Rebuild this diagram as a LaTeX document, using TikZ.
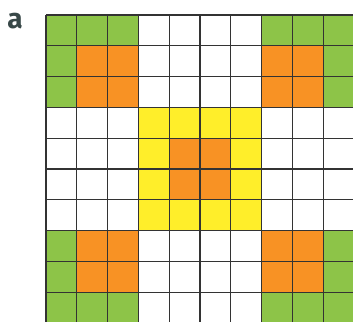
\documentclass[tikz,border=0pt]{standalone}
\usepackage{fontspec}
\setsansfont{Fira Sans}
\usepackage{tikz}
\definecolor{leafgreen}{RGB}{141,196,72}
\definecolor{cellorange}{RGB}{248,146,36}
\definecolor{cellyellow}{RGB}{255,238,42}
\definecolor{labelgray}{RGB}{56,72,72}

\begin{document}
\begin{tikzpicture}[x=1pt, y=-1pt,
    grn/.style={fill=leafgreen},
    org/.style={fill=cellorange},
    ylw/.style={fill=cellyellow},
    gridline/.style={draw=black!80, line width=1.3pt},
    lbl/.style={font=\sffamily\bfseries\fontsize{28}{28}\selectfont, text=labelgray, inner sep=0pt}
  ]
  \useasboundingbox (0,0) rectangle (353,321);
  \clip (0,0) rectangle (353,321);

  % ---------------- label ----------------
  \node[lbl] (tag) at (15,21) {a};

  % ---------------- 10x10 grid ----------------
  \begin{scope}[shift={(46,15)}, x=30.8pt, y=-30.8pt]
    % corner blocks
    \foreach \c/\r in {0/0,1/0,2/0,7/0,8/0,9/0,0/1,9/1,0/2,9/2,
                       0/7,9/7,0/8,9/8,0/9,1/9,2/9,7/9,8/9,9/9}
      \fill[grn] (\c,\r) rectangle ++(1,1);
    \foreach \c in {1,2,7,8}
      \foreach \r in {1,2,7,8}
        \fill[org] (\c,\r) rectangle ++(1,1);
    % centre block
    \fill[ylw] (3,3) rectangle (7,7);
    \fill[org] (4,4) rectangle (6,6);
    \foreach \i in {0,...,10} {
      \draw[gridline] (\i,0) -- (\i,10);
      \draw[gridline] (0,\i) -- (10,\i);
    }
  \end{scope}
\end{tikzpicture}
\end{document}
